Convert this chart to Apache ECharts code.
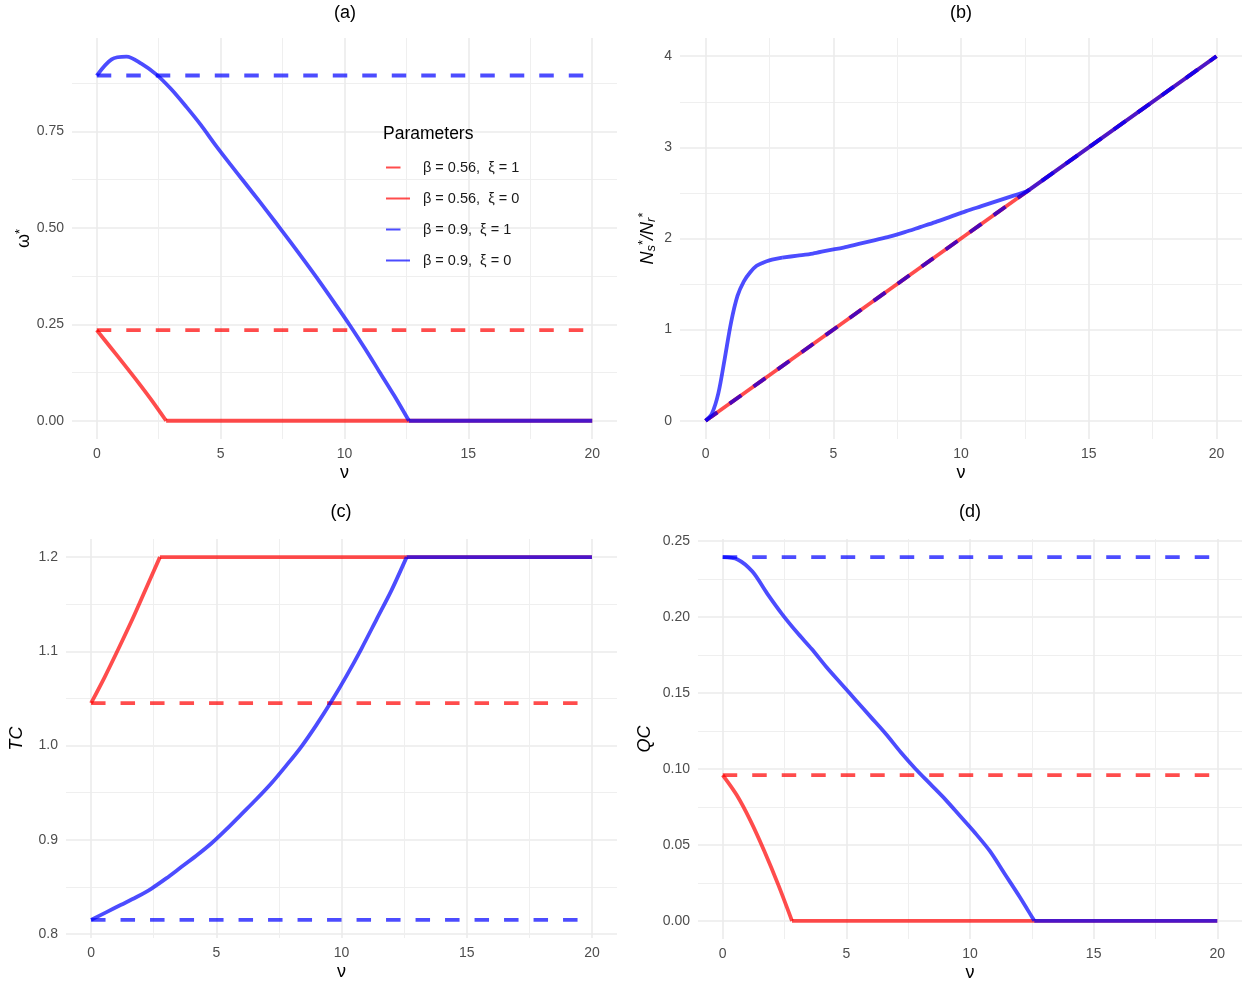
<!DOCTYPE html>
<html>
<head>
<meta charset="utf-8">
<script src="https://cdn.jsdelivr.net/npm/echarts@6/dist/echarts.min.js"></script>
<style>
html,body{margin:0;padding:0;background:#fff;}
#chart{width:1248px;height:985px;}
</style>
</head>
<body>
<div id="chart"></div>
<script>
// ---------- DATA ----------
const seriesNames = ['β = 0.56,  ξ = 1', 'β = 0.56,  ξ = 0', 'β = 0.9,  ξ = 1', 'β = 0.9,  ξ = 0'];

// Panel (a): omega*
const aRedDashNu = [0, 20];
const aRedDashVal = [0.235, 0.235];
const aRedSolidNu = [0, 0.56, 1.12, 1.68, 2.24, 2.8];
const aRedSolidVal = [0.235, 0.19, 0.145, 0.099, 0.051, 0];
const aRedTailNu = [2.8, 20];
const aRedTailVal = [0, 0];
const aBlueDashNu = [0, 20];
const aBlueDashVal = [0.895, 0.895];
const aBlueSolidNu = [0, 0.6, 1.2, 1.8, 2.4, 3.0, 3.6, 4.2, 4.8, 5.4, 6.0, 6.6, 7.2, 7.8, 8.4, 9.0, 9.6, 10.2, 10.8, 11.4, 12.0, 12.6];
const aBlueSolidVal = [0.895, 0.937, 0.944, 0.926, 0.898, 0.86, 0.815, 0.767, 0.714, 0.664, 0.615, 0.566, 0.516, 0.465, 0.413, 0.36, 0.305, 0.249, 0.19, 0.128, 0.066, 0];
const aBlueTailNu = [12.6, 20];
const aBlueTailVal = [0, 0];

// Panel (b): Ns*/Nr*
const bRedDashNu = [0, 20];
const bRedDashVal = [0, 4];
const bRedSolidNu = [0, 20];
const bRedSolidVal = [0, 4];
const bBlueDashNu = [0, 20];
const bBlueDashVal = [0, 4];
const bBlueRiseNu = [0, 0.25, 0.5, 0.75, 1, 1.25, 1.5, 1.75, 2, 2.25, 2.5, 2.75, 3];
const bBlueRiseVal = [0, 0.08, 0.3, 0.68, 1.08, 1.37, 1.53, 1.63, 1.7, 1.735, 1.76, 1.777, 1.79];
const bBlueSolidNu = [3, 3.6, 4.2, 4.8, 5.4, 6.0, 6.6, 7.2, 7.8, 8.4, 9.0, 9.6, 10.2, 10.8, 11.4, 12.0, 12.6];
const bBlueSolidVal = [1.79, 1.812, 1.835, 1.87, 1.9, 1.94, 1.98, 2.02, 2.07, 2.125, 2.18, 2.24, 2.3, 2.355, 2.41, 2.465, 2.52];
const bBlueTailNu = [12.6, 20];
const bBlueTailVal = [2.52, 4];

// Panel (c): TC
const cRedDashNu = [0, 20];
const cRedDashVal = [1.045, 1.045];
const cRedSolidNu = [0, 0.55, 1.1, 1.65, 2.2, 2.75];
const cRedSolidVal = [1.045, 1.073, 1.103, 1.134, 1.167, 1.2];
const cRedTailNu = [2.75, 20];
const cRedTailVal = [1.2, 1.2];
const cBlueDashNu = [0, 20];
const cBlueDashVal = [0.815, 0.815];
const cBlueSolidNu = [0, 0.6, 1.2, 1.8, 2.4, 3.0, 3.6, 4.2, 4.8, 5.4, 6.0, 6.6, 7.2, 7.8, 8.4, 9.0, 9.6, 10.2, 10.8, 11.4, 12.0, 12.6];
const cBlueSolidVal = [0.815, 0.823, 0.831, 0.839, 0.848, 0.859, 0.871, 0.883, 0.896, 0.911, 0.927, 0.943, 0.96, 0.979, 0.999, 1.022, 1.047, 1.074, 1.103, 1.134, 1.165, 1.2];
const cBlueTailNu = [12.6, 20];
const cBlueTailVal = [1.2, 1.2];

// Panel (d): QC
const dRedDashNu = [0, 20];
const dRedDashVal = [0.096, 0.096];
const dRedSolidNu = [0, 0.56, 1.12, 1.68, 2.24, 2.8];
const dRedSolidVal = [0.096, 0.083, 0.066, 0.046, 0.024, 0];
const dRedTailNu = [2.8, 20];
const dRedTailVal = [0, 0];
const dBlueDashNu = [0, 20];
const dBlueDashVal = [0.2395, 0.2395];
const dBlueSolidNu = [0, 0.6, 1.2, 1.8, 2.4, 3.0, 3.6, 4.2, 4.8, 5.4, 6.0, 6.6, 7.2, 7.8, 8.4, 9.0, 9.6, 10.2, 10.8, 11.4, 12.0, 12.6];
const dBlueSolidVal = [0.2395, 0.238, 0.23, 0.2155, 0.202, 0.19, 0.179, 0.167, 0.156, 0.145, 0.134, 0.123, 0.111, 0.1, 0.09, 0.08, 0.069, 0.058, 0.046, 0.031, 0.016, 0];
const dBlueTailNu = [12.6, 20];
const dBlueTailVal = [0, 0];

// Tick values
const xMajor = [0, 5, 10, 15, 20];
const xMinor = [2.5, 7.5, 12.5, 17.5];
const aYMajor = [0, 0.25, 0.5, 0.75];
const aYMinor = [0.125, 0.375, 0.625, 0.875];
const bYMajor = [0, 1, 2, 3, 4];
const bYMinor = [0.5, 1.5, 2.5, 3.5];
const cYMajor = [0.8, 0.9, 1.0, 1.1, 1.2];
const cYMinor = [0.85, 0.95, 1.05, 1.15];
const dYMajor = [0, 0.05, 0.1, 0.15, 0.2, 0.25];
const dYMinor = [0.025, 0.075, 0.125, 0.175, 0.225];

// ---------- BUILD ----------
const FONT = '"Liberation Sans", Arial, Helvetica, sans-serif';
const RED = 'rgba(255,0,0,0.7)';
const BLUE = 'rgba(0,0,255,0.7)';
const DASH = [14.5, 15];
const LW = 3.8;

function zip(xs, ys) { return xs.map((x, i) => [x, ys[i]]); }

const grids = [
  {left: 72, top: 38, width: 545, height: 401},
  {left: 680, top: 38, width: 562, height: 401},
  {left: 66, top: 539, width: 551, height: 399},
  {left: 698, top: 539, width: 544, height: 400}
];

const yRanges = [
  [-0.04725, 0.99225],
  [-0.2, 4.2],
  [0.79575, 1.21925],
  [-0.011975, 0.251475]
];
const yMajors = [aYMajor, bYMajor, cYMajor, dYMajor];
const yMinors = [aYMinor, bYMinor, cYMinor, dYMinor];
const yFmts = [v => v.toFixed(2), v => String(Math.round(v)), v => v.toFixed(1), v => v.toFixed(2)];
const yNames = [
  '{g|ω}{sup|*}',
  '{i|N}{sub|s}{sup|*}{i|/N}{sub|r}{sup|*}',
  '{i|TC}',
  '{i|QC}'
];
const yNameGaps = [38, 22, 40, 44];

const majorLine = {show: true, lineStyle: {color: '#EBEBEB', width: 1.6}};
const minorLine = {show: true, lineStyle: {color: '#EFEFEF', width: 1}};

const xAxes = [], yAxes = [];
for (let g = 0; g < 4; g++) {
  xAxes.push({
    type: 'value', gridIndex: g, min: -1, max: 21,
    axisLine: {show: false}, axisTick: {show: false, customValues: xMajor},
    axisLabel: {customValues: xMajor, formatter: v => String(Math.round(v)), color: '#4D4D4D', fontSize: 14, fontFamily: FONT, margin: 8},
    splitLine: majorLine,
    name: 'ν', nameLocation: 'middle', nameGap: 25,
    nameTextStyle: {fontSize: 18, color: '#000', fontFamily: FONT}
  });
  xAxes.push({
    type: 'value', gridIndex: g, min: -1, max: 21,
    axisLine: {show: false}, axisTick: {show: false, customValues: xMinor},
    axisLabel: {show: false}, splitLine: minorLine
  });
  yAxes.push({
    type: 'value', gridIndex: g, min: yRanges[g][0], max: yRanges[g][1], position: 'left',
    axisLine: {show: false}, axisTick: {show: false, customValues: yMajors[g]},
    axisLabel: {customValues: yMajors[g], formatter: yFmts[g], color: '#4D4D4D', fontSize: 14, fontFamily: FONT, margin: 8},
    splitLine: majorLine,
    name: yNames[g], nameLocation: 'middle', nameRotate: 90, nameGap: yNameGaps[g],
    nameTextStyle: {
      color: '#000', fontFamily: FONT, fontSize: 18,
      rich: {
        g: {fontSize: 18, fontFamily: FONT, color: '#000'},
        i: {fontSize: 18, fontStyle: 'italic', fontFamily: FONT, color: '#000'},
        sub: {fontSize: 13, fontStyle: 'italic', fontFamily: FONT, color: '#000', verticalAlign: 'bottom', padding: [8, 0, 0, 0]},
        sup: {fontSize: 13, fontFamily: FONT, color: '#000', verticalAlign: 'top', padding: [0, 0, 6, 0]}
      }
    }
  });
  yAxes.push({
    type: 'value', gridIndex: g, min: yRanges[g][0], max: yRanges[g][1], position: 'left',
    axisLine: {show: false}, axisTick: {show: false, customValues: yMinors[g]},
    axisLabel: {show: false}, splitLine: minorLine
  });
}

// each entry: list of [nu, values, smooth] pieces, drawn in legend order
const panelData = [
  [
    [[aRedDashNu, aRedDashVal, false]],
    [[aRedSolidNu, aRedSolidVal, 0.3], [aRedTailNu, aRedTailVal, false]],
    [[aBlueDashNu, aBlueDashVal, false]],
    [[aBlueSolidNu, aBlueSolidVal, 0.3], [aBlueTailNu, aBlueTailVal, false]]
  ],
  [
    [[bRedDashNu, bRedDashVal, false]],
    [[bRedSolidNu, bRedSolidVal, false]],
    [[bBlueDashNu, bBlueDashVal, false]],
    [[bBlueRiseNu, bBlueRiseVal, 0.3], [bBlueSolidNu, bBlueSolidVal, 0.3], [bBlueTailNu, bBlueTailVal, false]]
  ],
  [
    [[cRedDashNu, cRedDashVal, false]],
    [[cRedSolidNu, cRedSolidVal, 0.3], [cRedTailNu, cRedTailVal, false]],
    [[cBlueDashNu, cBlueDashVal, false]],
    [[cBlueSolidNu, cBlueSolidVal, 0.3], [cBlueTailNu, cBlueTailVal, false]]
  ],
  [
    [[dRedDashNu, dRedDashVal, false]],
    [[dRedSolidNu, dRedSolidVal, 0.3], [dRedTailNu, dRedTailVal, false]],
    [[dBlueDashNu, dBlueDashVal, false]],
    [[dBlueSolidNu, dBlueSolidVal, 0.3], [dBlueTailNu, dBlueTailVal, false]]
  ]
];
const styles = [
  {color: RED, type: DASH},
  {color: RED, type: 'solid'},
  {color: BLUE, type: DASH},
  {color: BLUE, type: 'solid'}
];

const series = [];
for (let g = 0; g < 4; g++) {
  for (let s = 0; s < 4; s++) {
    panelData[g][s].forEach(piece => {
      series.push({
        type: 'line', name: seriesNames[s],
        xAxisIndex: g * 2, yAxisIndex: g * 2,
        data: zip(piece[0], piece[1]),
        symbol: 'none', showSymbol: false,
        smooth: piece[2],
        color: styles[s].color,
        itemStyle: {color: styles[s].color},
        lineStyle: {color: styles[s].color, width: LW, type: styles[s].type, cap: 'butt', join: 'round'},
        z: 3 + s
      });
    });
  }
}

function txt(text, x, y, size, align) {
  return {type: 'text', x: x, y: y, z: 10, style: {text: text, fill: '#000', font: size + 'px ' + FONT, textAlign: align || 'center', textVerticalAlign: 'middle'}};
}

const option = {
  animation: false,
  backgroundColor: '#fff',
  grid: grids,
  xAxis: xAxes,
  yAxis: yAxes,
  legend: {
    data: seriesNames, orient: 'vertical', left: 385, top: 160, padding: 0,
    itemWidth: 24, itemHeight: 14, itemGap: 16,
    itemStyle: {opacity: 0},
    textStyle: {fontSize: 14.5, color: '#1A1A1A', fontFamily: FONT, padding: [0, 0, 0, 8]},
    selectedMode: false
  },
  graphic: [
    txt('(a)', 345, 13, 18),
    txt('(b)', 961, 13, 18),
    txt('(c)', 341, 512, 18),
    txt('(d)', 970, 512, 18),
    txt('Parameters', 383, 134, 17.5, 'left')
  ],
  series: series
};

const chart = echarts.init(document.getElementById('chart'), null, {renderer: 'canvas'});
chart.setOption(option);
</script>
</body>
</html>
